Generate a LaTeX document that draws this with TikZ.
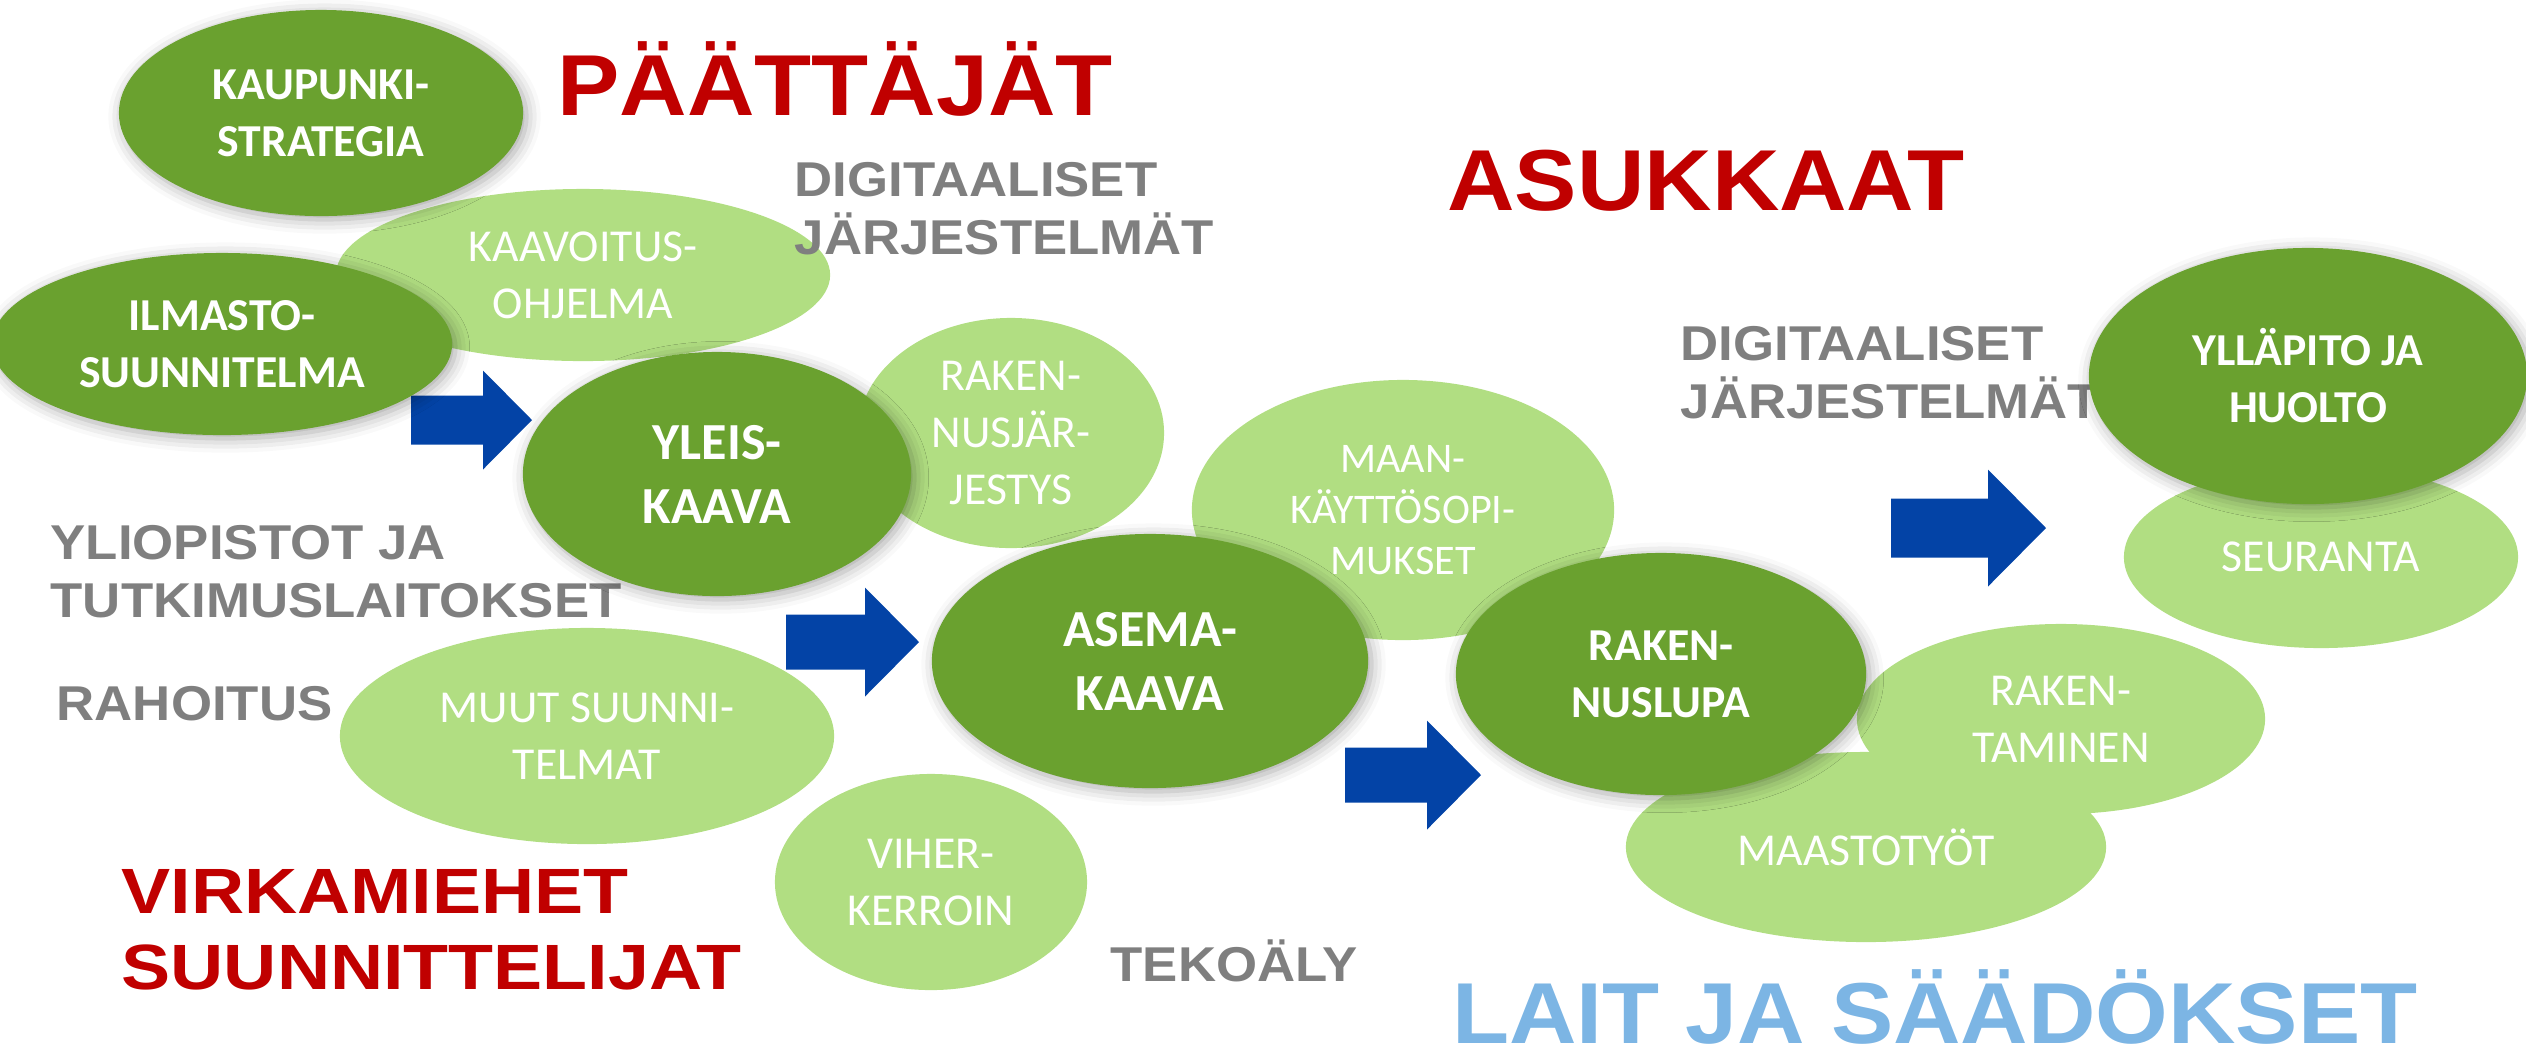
\documentclass[tikz,border=0pt]{standalone}
\usepackage{fontspec}
\setmainfont{Carlito}
\newfontfamily\headfont{Liberation Sans}[FakeStretch=1.08]
\newfontfamily\wideheadfont{Liberation Sans}[FakeStretch=1.15]
\usetikzlibrary{shapes.geometric,shadows.blur}
\definecolor{leafdark}{RGB}{106,161,47}
\definecolor{leaflight}{RGB}{177,222,130}
\definecolor{arrowblue}{RGB}{3,67,166}
\definecolor{actorred}{RGB}{192,0,0}
\definecolor{toolgrey}{RGB}{127,127,127}
\definecolor{lawblue}{RGB}{124,181,228}

\begin{document}
\begin{tikzpicture}[x=0.01cm,y=-0.01cm]
  \tikzstyle{phase}=[ellipse,inner sep=0pt,text=white,align=center,
                     font=\fontsize{13}{16.2}\selectfont]
  \tikzstyle{side}=[phase,fill=leaflight]
  \tikzstyle{main}=[phase,fill=leafdark,font=\bfseries\fontsize{13}{16.2}\selectfont,
                    blur shadow={shadow xshift=1pt,shadow yshift=-1pt,
                                 shadow blur radius=4pt,shadow opacity=35}]
  \tikzstyle{actor}=[inner sep=0pt,align=left,text=actorred,
                     font=\headfont\bfseries\fontsize{24.6}{29}\selectfont]
  \tikzstyle{tool}=[inner sep=0pt,align=left,text=toolgrey,
                    font=\headfont\bfseries\fontsize{13.9}{16.4}\selectfont]
  \useasboundingbox (0,0) rectangle (2526,1053);

  % kevyet pallot
  \node[side,minimum width=4.94cm,minimum height=1.72cm] (ohjelma) at (583,275) {KAAVOITUS-\\OHJELMA};
  \node[side,minimum width=3.06cm,minimum height=2.30cm] (jarjestys) at (1011,433) {RAKEN-\\NUSJÄR-\\JESTYS};
  \node[side,minimum width=4.22cm,minimum height=2.60cm,font=\fontsize{12}{14.5}\selectfont] (sopimukset) at (1403,510) {MAAN-\\KÄYTTÖSOPI-\\MUKSET};
  \node[side,minimum width=4.94cm,minimum height=2.16cm] (muut) at (587,736) {MUUT SUUNNI-\\TELMAT};
  \node[side,minimum width=3.12cm,minimum height=2.16cm] (viher) at (931,882) {VIHER-\\KERROIN};
  \node[side,minimum width=3.94cm,minimum height=1.82cm] (seuranta) at (2321,557) {SEURANTA};
  \node[side,minimum width=4.80cm,minimum height=1.90cm] (maasto) at (1866,847) {MAASTOTYÖT};
  \node[side,minimum width=4.08cm,minimum height=1.90cm] (rakentaminen) at (2061,719) {RAKEN-\\TAMINEN};

  % toimijat ja tausta
  \node[tool,anchor=north west] (digi1) at (794,162) {DIGITAALISET\\JÄRJESTELMÄT};
  \node[tool,anchor=north west] (digi2) at (1680,326) {DIGITAALISET\\JÄRJESTELMÄT};
  \node[tool,anchor=north west] (yliopistot) at (50,525) {YLIOPISTOT JA\\TUTKIMUSLAITOKSET};
  \node[tool,anchor=north west] (rahoitus) at (56,686) {RAHOITUS};
  \node[tool,anchor=base west] (tekoaly) at (1110,981) {TEKOÄLY};
  \node[actor,anchor=base] (paattajat) at (835,115) {PÄÄTTÄJÄT};
  \node[actor,anchor=base] (asukkaat) at (1706,210) {ASUKKAAT};
  \node[actor,anchor=north west,font=\wideheadfont\bfseries\fontsize{18.2}{21.6}\selectfont] (virkamiehet) at (121,869) {VIRKAMIEHET\\SUUNNITTELIJAT};
  \node[actor,anchor=base,text=lawblue] (lait) at (1935,1043) {LAIT JA SÄÄDÖKSET};

  % nuolet
  \foreach \sx/\nx/\tx/\cy/\sh/\hh in {411/483/532/420/24.5/49.5, 786/865/919/642/27.5/54.5,
                                       1345/1427/1481/775/27.5/54.5, 1891/1988/2046/528/29.5/58.5}
    \fill[arrowblue] (\sx,\cy-\sh) -- (\nx,\cy-\sh) -- (\nx,\cy-\hh) -- (\tx,\cy)
                     -- (\nx,\cy+\hh) -- (\nx,\cy+\sh) -- (\sx,\cy+\sh) -- cycle;

  % tummat pallot
  \node[main,minimum width=4.04cm,minimum height=2.06cm] (strategia) at (321,113) {KAUPUNKI-\\STRATEGIA};
  \node[main,minimum width=4.60cm,minimum height=1.82cm] (ilmasto) at (222,344) {ILMASTO-\\SUUNNITELMA};
  \node[main,minimum width=3.88cm,minimum height=2.44cm,font=\bfseries\fontsize{14.8}{18.2}\selectfont] (yleis) at (717,474) {YLEIS-\\KAAVA};
  \node[main,minimum width=4.36cm,minimum height=2.54cm,font=\bfseries\fontsize{14.8}{18.2}\selectfont] (asema) at (1150,661) {ASEMA-\\KAAVA};
  \node[main,minimum width=4.10cm,minimum height=2.42cm] (lupa) at (1661,674) {RAKEN-\\NUSLUPA};
  \node[main,minimum width=4.38cm,minimum height=2.56cm] (yllapito) at (2308,376) {YLLÄPITO JA\\HUOLTO};
\end{tikzpicture}
\end{document}
